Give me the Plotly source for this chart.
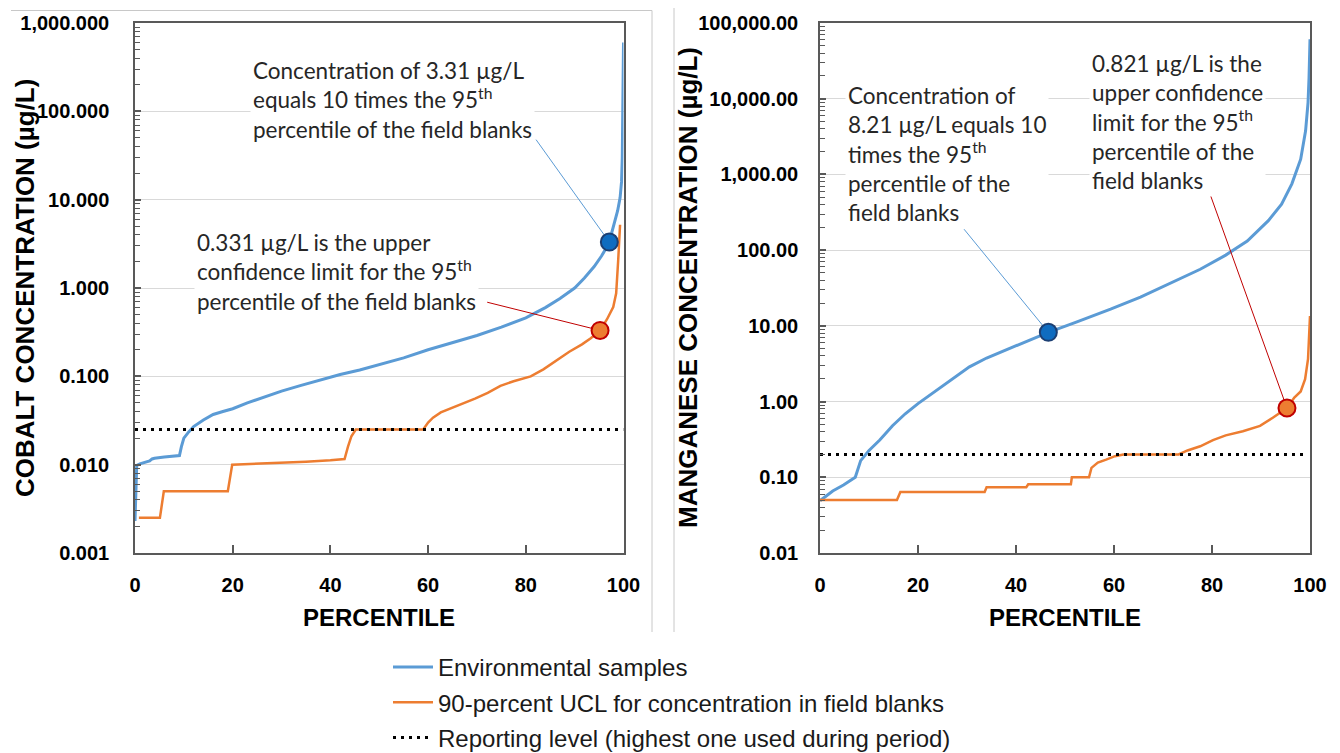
import plotly.graph_objects as go

# ---------------- data ----------------
co_env_pct = [0, 0.1, 0.2, 0.35, 1, 2, 3, 3.5, 4, 6, 8, 9.1, 9.5, 10, 11, 12, 14, 16, 18, 20,
              23, 26, 30, 34, 38, 42, 46, 50, 55, 60, 65, 70, 75, 80, 84, 87, 90, 92, 94,
              95.5, 97, 98, 98.8, 99.3, 99.6, 99.75, 99.85, 100]
co_env_val = [0.0023, 0.004, 0.0065, 0.0098, 0.0102, 0.0106, 0.011, 0.0116, 0.0118, 0.0122,
              0.0125, 0.0127, 0.016, 0.02, 0.0235, 0.027, 0.032, 0.037, 0.040, 0.043,
              0.050, 0.057, 0.068, 0.079, 0.091, 0.105, 0.118, 0.135, 0.162, 0.20, 0.24,
              0.29, 0.36, 0.46, 0.60, 0.76, 1.0, 1.3, 1.75, 2.3, 3.2, 5.0, 7.5, 10.5, 16,
              30, 100, 600]

co_ucl_pct = [0.8, 5.1, 5.9, 19.0, 19.9, 25, 30, 35, 40, 42.9, 43.6, 44.3, 45.2, 59.0, 60,
              61, 62.6, 65.2, 67, 69.6, 72.2, 74.8, 77.5, 81, 83.6, 86.2, 88.9, 91.5, 93.3,
              95.2, 96.6, 97.9, 98.5, 98.9, 99.3]
co_ucl_val = [0.0025, 0.0025, 0.005, 0.005, 0.01, 0.0102, 0.0105, 0.0108, 0.0112, 0.0116,
              0.016, 0.021, 0.025, 0.025, 0.030, 0.034, 0.039, 0.0445, 0.049, 0.056, 0.065,
              0.078, 0.088, 0.10, 0.12, 0.15, 0.19, 0.23, 0.27, 0.331, 0.44, 0.61, 0.87,
              2.0, 5.2]

mn_env_pct = [0, 2.6, 4.8, 7.2, 7.6, 8.3, 10, 12.2, 14.8, 17.4, 20, 23.5, 27, 30.5, 34,
              39.2, 46.6, 52.3, 59.3, 65.4, 71.5, 77.6, 82.8, 87.2, 91.5, 94.2, 96.3, 98.1,
              99.1, 99.6, 99.8, 100]
mn_env_val = [0.049, 0.066, 0.079, 0.1, 0.12, 0.166, 0.226, 0.31, 0.48, 0.69, 0.94, 1.36,
              1.98, 2.87, 3.76, 5.19, 8.21, 11.2, 16.6, 24, 36.7, 55.9, 86, 132, 245, 404,
              752, 1590, 3760, 8900, 18700, 61000]

mn_ucl_pct = [0, 15.7, 16.4, 33.6, 34, 42.1, 42.5, 51.2, 51.4, 54.9, 55.4, 56.7, 58.4, 60.2,
              61.9, 73.2, 75, 77.6, 80.2, 82.8, 86.3, 89.8, 92.4, 95.3, 96.8, 98.1, 99,
              99.6, 100]
mn_ucl_val = [0.05, 0.05, 0.064, 0.064, 0.074, 0.074, 0.081, 0.081, 0.1, 0.1, 0.133, 0.156,
              0.171, 0.19, 0.2, 0.2, 0.226, 0.257, 0.31, 0.358, 0.405, 0.478, 0.61, 0.821,
              1.13, 1.36, 1.98, 3.67, 13.5]

co_rl_pct = [0, 100]
co_rl_val = [0.025, 0.025]
mn_rl_pct = [0, 99]
mn_rl_val = [0.2, 0.2]

# highlighted points: (percentile, concentration)
co_env_point = (97.1, 3.31)
co_ucl_point = (95.2, 0.331)
mn_env_point = (46.6, 8.21)
mn_ucl_point = (95.3, 0.821)

# leader-line start points (near the callout text), data coordinates
co_env_lead = (82.1, 47.8)
co_ucl_lead = (72.1, 0.69)
mn_env_lead = (29.4, 189)
mn_ucl_lead = (79.6, 550)

co_ticks = [0.001, 0.01, 0.1, 1, 10, 100, 1000]
mn_ticks = [0.01, 0.1, 1, 10, 100, 1000, 10000, 100000]
x_ticks = [0, 20, 40, 60, 80, 100]
minor_digits = [2, 3, 4, 5, 6, 7, 8, 9]

legend_names = ["Environmental samples",
                "90-percent UCL for concentration in field blanks",
                "Reporting level (highest one used during period)"]

# ---------------- styles ----------------
BLUE = "#5b9bd5"
ORANGE = "#ed7d31"
AXIS = "#595959"
GRID = "#d9d9d9"
TICKFONT = dict(family="Liberation Sans, Arial, sans-serif", size=20, color="#000000",
                weight="bold")
YTITLEFONT = dict(family="Liberation Sans, Arial, sans-serif", size=26, color="#000000")
XTITLEFONT = dict(family="Liberation Sans, Arial, sans-serif", size=24, color="#000000")
NOTEFONT = dict(family="Lato, Carlito, Calibri, sans-serif", size=22.5, color="#262626")

W, H = 1340, 753

fig = go.Figure()


def add_panel(xa, ya, env_p, env_v, ucl_p, ucl_v, rl_p, rl_v, pe, pu, le, lu, show):
    fig.add_trace(go.Scatter(x=env_p, y=env_v, mode="lines", xaxis=xa, yaxis=ya,
                             line=dict(color=BLUE, width=3), name=legend_names[0],
                             legendgroup="a", showlegend=show, hoverinfo="skip"))
    fig.add_trace(go.Scatter(x=ucl_p, y=ucl_v, mode="lines", xaxis=xa, yaxis=ya,
                             line=dict(color=ORANGE, width=2.5), name=legend_names[1],
                             legendgroup="b", showlegend=show, hoverinfo="skip"))
    fig.add_trace(go.Scatter(x=rl_p, y=rl_v, mode="lines", xaxis=xa, yaxis=ya,
                             line=dict(color="#000000", width=3, dash="3px,5px"),
                             name=legend_names[2], legendgroup="c", showlegend=show,
                             hoverinfo="skip"))
    # leader lines
    fig.add_trace(go.Scatter(x=[le[0], pe[0]], y=[le[1], pe[1]], mode="lines",
                             xaxis=xa, yaxis=ya, line=dict(color=BLUE, width=1),
                             showlegend=False, hoverinfo="skip"))
    fig.add_trace(go.Scatter(x=[lu[0], pu[0]], y=[lu[1], pu[1]], mode="lines",
                             xaxis=xa, yaxis=ya, line=dict(color="#c00000", width=1),
                             showlegend=False, hoverinfo="skip"))
    # highlighted points
    fig.add_trace(go.Scatter(x=[pe[0]], y=[pe[1]], mode="markers", xaxis=xa, yaxis=ya,
                             marker=dict(size=17, color="#0f6cc0",
                                         line=dict(color="#1c3f73", width=2)),
                             showlegend=False, hoverinfo="skip"))
    fig.add_trace(go.Scatter(x=[pu[0]], y=[pu[1]], mode="markers", xaxis=xa, yaxis=ya,
                             marker=dict(size=17, color=ORANGE,
                                         line=dict(color="#c00000", width=2)),
                             showlegend=False, hoverinfo="skip"))


add_panel("x", "y", co_env_pct, co_env_val, co_ucl_pct, co_ucl_val, co_rl_pct, co_rl_val,
          co_env_point, co_ucl_point, co_env_lead, co_ucl_lead, True)
add_panel("x2", "y2", mn_env_pct, mn_env_val, mn_ucl_pct, mn_ucl_val, mn_rl_pct, mn_rl_val,
          mn_env_point, mn_ucl_point, mn_env_lead, mn_ucl_lead, False)

ydom = [1 - 553 / H, 1 - 23 / H]
xdom1 = [135 / W, 623.5 / W]
xdom2 = [820 / W, 1310 / W]


def minor_vals(ticks):
    return [t * d for t in ticks[:-1] for d in minor_digits]


def xaxis_cfg(dom, anchor):
    return dict(domain=dom, anchor=anchor, range=[0, 100], tickvals=x_ticks,
                ticks="inside", ticklen=8, tickcolor=AXIS, tickwidth=1.5, showline=True,
                linecolor=AXIS, linewidth=1.5, mirror=True, showgrid=False,
                zeroline=False, tickfont=TICKFONT, ticklabelstandoff=13, automargin=False)


def yaxis_cfg(dom, anchor, rng, ticks, fmt, standoff):
    return dict(domain=dom, anchor=anchor, type="log", range=rng, tickvals=ticks,
                tickformat=fmt, ticks="inside", ticklen=6, tickcolor=AXIS, tickwidth=1.5,
                showline=True, linecolor=AXIS, linewidth=1.5, mirror=True, showgrid=True,
                gridcolor=GRID, gridwidth=1, zeroline=False, tickfont=TICKFONT,
                ticklabelstandoff=standoff, automargin=False,
                minor=dict(tickmode="array", tickvals=minor_vals(ticks), ticks="inside",
                           ticklen=5, tickcolor=AXIS, tickwidth=1, showgrid=False))


fig.update_layout(
    width=W, height=H, margin=dict(l=0, r=0, t=0, b=0, autoexpand=False),
    paper_bgcolor="white", plot_bgcolor="white",
    xaxis=xaxis_cfg(xdom1, "y"),
    xaxis2=xaxis_cfg(xdom2, "y2"),
    yaxis=yaxis_cfg(ydom, "x", [-3, 3], co_ticks, ",.3f", 20),
    yaxis2=yaxis_cfg(ydom, "x2", [-2, 5], mn_ticks, ",.2f", 16),
    legend=dict(x=388 / W, y=1 - 645 / H, xanchor="left", yanchor="top",
                font=dict(family="Liberation Sans, Arial, sans-serif", size=24,
                          color="#1a1a1a"),
                tracegroupgap=1, itemwidth=40, bgcolor="rgba(0,0,0,0)"),
    showlegend=True,
)


def note(text, x, y):
    fig.add_annotation(text=text, x=x / W, y=1 - y / H, xref="paper", yref="paper",
                       xanchor="left", yanchor="top", align="left", showarrow=False,
                       font=NOTEFONT, bgcolor="white", borderpad=2)


note("Concentration of 3.31 µg/L<br>equals 10 times the 95<sup>th</sup><br>"
     "percentile of the field blanks", 250, 54)
note("0.331 µg/L is the upper<br>confidence limit for the 95<sup>th</sup><br>"
     "percentile of the field blanks", 194, 226)
note("Concentration of<br>8.21 µg/L equals 10<br>times the 95<sup>th</sup><br>"
     "percentile of the<br>field blanks", 845, 79)
note("0.821 µg/L is the<br>upper confidence<br>limit for the 95<sup>th</sup><br>"
     "percentile of the<br>field blanks", 1089, 47)

# axis titles
ymid = (ydom[0] + ydom[1]) / 2
for txt, cx, cy, ang, fnt in [
        ("<b>PERCENTILE</b>", (xdom1[0] + xdom1[1]) / 2, 1 - 617 / H, 0, XTITLEFONT),
        ("<b>PERCENTILE</b>", (xdom2[0] + xdom2[1]) / 2, 1 - 617 / H, 0, XTITLEFONT),
        ("<b>COBALT CONCENTRATION (µg/L)</b>", 25 / W, ymid, -90, YTITLEFONT),
        ("<b>MANGANESE CONCENTRATION (µg/L)</b>", 688 / W, ymid, -90, YTITLEFONT)]:
    fig.add_annotation(text=txt, x=cx, y=cy, xref="paper", yref="paper",
                       xanchor="center", yanchor="middle", showarrow=False,
                       font=fnt, textangle=ang)

# light panel frame lines from the original composite image
for x0, y0, x1, y1 in [(11, 10.5, 652, 10.5), (652, 10.5, 652, 632), (674, 8, 674, 632)]:
    fig.add_shape(type="line", xref="paper", yref="paper", x0=x0 / W, y0=1 - y0 / H,
                  x1=x1 / W, y1=1 - y1 / H, line=dict(color="#c8c8c8", width=1))

fig.write_html("out.html", config={"displayModeBar": False},
               post_script="document.body.style.margin='0px';"
                           "document.body.style.overflow='hidden';")
